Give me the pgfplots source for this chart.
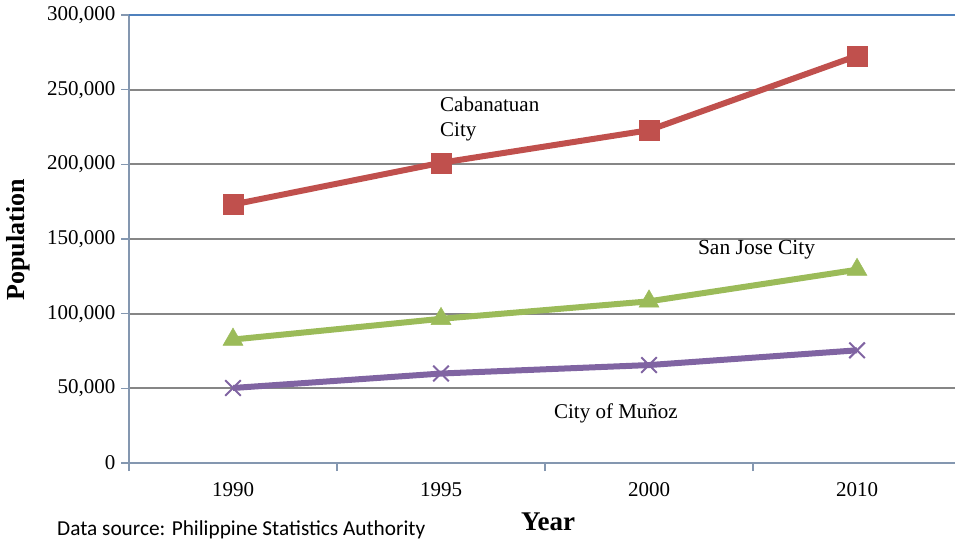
\documentclass[border=0pt]{standalone}
\usepackage{fontspec}
\setmainfont{Liberation Serif}
\newfontfamily\calibri{Carlito}
\usepackage{pgfplots}
\pgfplotsset{compat=1.18}
\definecolor{cab}{HTML}{C0504D}
\definecolor{sj}{HTML}{9BBB59}
\definecolor{mun}{HTML}{8064A2}
\definecolor{gridc}{HTML}{868686}
\definecolor{axc}{HTML}{8497B0}
\definecolor{topc}{HTML}{4F81BD}
\begin{document}
\begin{tikzpicture}[x=1pt,y=1pt]
\useasboundingbox (0,0) rectangle (955,543);
\begin{axis}[
  at={(129pt,80pt)}, anchor=south west,
  scale only axis, width=826pt, height=448pt,
  xmin=-0.5, xmax=3.471, ymin=0, ymax=300000,
  xtick={0,1,2,3}, xticklabels={1990,1995,2000,2010},
  minor xtick={-0.5,0.5,1.5,2.5},
  ytick={0,50000,100000,150000,200000,250000,300000},
  yticklabels={0,{50,000},{100,000},{150,000},{200,000},{250,000},{300,000}},
  scaled y ticks=false,
  ticklabel style={font=\fontsize{21}{25}\selectfont, text=black},
  xticklabel style={yshift=-8pt},
  yticklabel style={xshift=-2pt},
  tick pos=left, tick align=outside,
  major x tick style={draw=none},
  minor tick length=8pt, major tick length=8pt,
  every tick/.style={axc, line width=1.5pt},
  minor tick style={axc, line width=1.5pt},
  ymajorgrids, grid style={gridc, line width=2pt},
  axis line style={draw=none},
  clip=false,
]
\draw[axc, line width=2.5pt] (rel axis cs:0,0) -- (rel axis cs:0,1);
\draw[axc, line width=2.5pt] (rel axis cs:0,0) -- (rel axis cs:1,0);
\draw[topc, line width=2.5pt] (rel axis cs:0,1) -- (rel axis cs:1,1);
\addplot[cab, line width=6pt, mark=square*, mark size=10pt, mark options={solid, line width=0.5pt}]
  coordinates {(0,173065) (1,201033) (2,222859) (3,272676)};
\addplot[sj, line width=6pt, mark=triangle*, mark size=11.5pt, mark options={solid, line width=0.5pt}]
  coordinates {(0,82668) (1,96554) (2,108254) (3,129424)};
\addplot[mun, line width=6pt, mark=x, mark size=11pt, mark options={solid, line width=2pt}]
  coordinates {(0,50223) (1,59908) (2,65586) (3,75462)};
\node[anchor=north west, align=left, inner sep=0pt, font=\fontsize{21}{25}\selectfont] at (axis cs:0.995,245000) {Cabanatuan\\City};
\node[font=\fontsize{21.5}{25}\selectfont, inner sep=0pt] at (axis cs:2.517,142634) {San Jose City};
\node[font=\fontsize{21}{25}\selectfont, inner sep=0pt] at (axis cs:1.841,33482) {City of Muñoz};
\end{axis}
\node[rotate=90, font=\bfseries\fontsize{26}{30}\selectfont, inner sep=0pt] at (18,303) {Population};
\node[font=\bfseries\fontsize{27}{30}\selectfont, inner sep=0pt] at (548,21) {Year};
\node[font=\calibri\fontsize{21.3}{25}\selectfont, anchor=west, inner sep=0pt] at (57,13) {Data source: Philippine Statistics Authority};
\end{tikzpicture}
\end{document}
